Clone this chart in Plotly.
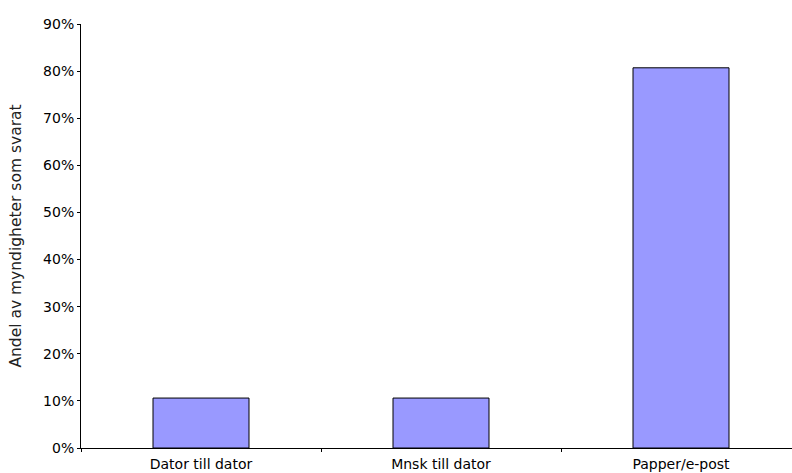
import plotly.graph_objects as go

categories = ["Dator till dator", "Mnsk till dator", "Papper/e-post"]
values = [0.106, 0.106, 0.807]
y_title = "Andel av myndigheter som svarat"

fig = go.Figure(go.Bar(
    x=categories, y=values, width=0.4,
    marker=dict(color="#9999FF", line=dict(color="#000000", width=1)),
    hoverinfo="skip",
))

fig.update_layout(
    width=792, height=473,
    margin=dict(l=81, r=0, t=24, b=25, autoexpand=False),
    paper_bgcolor="white", plot_bgcolor="white",
    font=dict(family="DejaVu Sans, Arial, sans-serif", size=14, color="#000000"),
    showlegend=False,
    bargap=0.6,
)
fig.update_xaxes(
    type="category", range=[-0.5, 2.4625],
    showline=True, linecolor="#000000", linewidth=1,
    ticks="outside", tickson="boundaries", ticklen=3, tickcolor="#000000",
    showgrid=False, zeroline=False, automargin=False,
    tickfont=dict(size=14), ticklabelstandoff=3,
)
fig.update_yaxes(
    range=[0, 0.9], dtick=0.1, tick0=0, tickformat=".0%",
    showline=True, linecolor="#000000", linewidth=1,
    ticks="outside", ticklen=3, tickcolor="#000000",
    showgrid=False, zeroline=False, automargin=False,
    tickfont=dict(size=14), ticklabelstandoff=0,
    title=dict(text=y_title, font=dict(size=15.5, color="#222222"), standoff=17),
)

fig.write_html("out.html", config={"displayModeBar": False},
               post_script="document.body.style.margin='0';")
